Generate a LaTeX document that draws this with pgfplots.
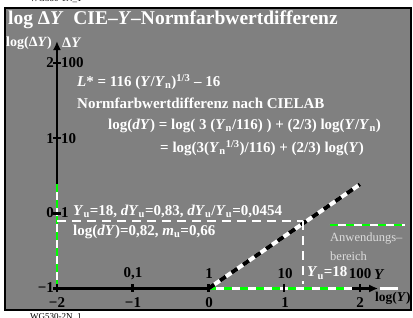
\documentclass[border=0pt]{standalone}
\usepackage{pgfplots}
\pgfplotsset{compat=1.18}
\usepackage{fontspec}
\setmainfont{Liberation Serif}
\usetikzlibrary{arrows.meta}
\definecolor{bg}{RGB}{128,128,128}
\definecolor{gr}{RGB}{0,255,0}
\definecolor{lg}{RGB}{220,220,220}
\newcommand\fs[1]{\fontsize{#1}{#1}\selectfont}
\newcommand\sub[1]{\textsubscript{#1}}
\begin{document}
\begin{tikzpicture}
\begin{scope}[x=1pt,y=-1pt,yshift=317pt]
\fill[bg] (5,8) rectangle (411,310);
\draw[line width=2pt] (5,8) rectangle (411,310);
\node[anchor=south west,inner sep=0pt,font=\fs{9}] at (30,3) {WG530-1N\_1};
\node[anchor=north west,inner sep=0pt,font=\fs{9}] at (30,313) {WG530-2N\_1};
\end{scope}
\begin{axis}[at={(0,0)}, anchor=south west, width=413pt, height=317pt,
  scale only axis, xmin=-2.752, xmax=2.700, ymin=-1.379, ymax=2.836,
  hide axis, clip=false]
% axes
\addplot[black, line width=2.5pt, -{Latex[length=9pt,width=8pt]}] coordinates {(-2,-1) (2.24,-1)};
\addplot[white, line width=2.5pt] coordinates {(2.26,-1) (2.50,-1)};
\addplot[black, line width=2.5pt, -{Latex[length=9pt,width=8pt]}] coordinates {(-2,-1) (-2,2.29)};
% application range
\addplot[white, line width=2.5pt] coordinates {(0,-1) (1.9,-1)};
\addplot[gr, line width=2.5pt, dash pattern=on 8pt off 8pt] coordinates {(0,-1) (1.9,-1)};
\addplot[white, line width=2.5pt] coordinates {(-2,-1) (-2,0.385)};
\addplot[gr, line width=2.5pt, dash pattern=on 8pt off 8pt] coordinates {(-2,-1) (-2,0.385)};
% data line
\addplot[white, line width=4pt] coordinates {(0,-1) (2,0.385)};
\addplot[black, line width=4pt, dash pattern=on 7pt off 7pt] coordinates {(0,-1) (2,0.385)};
% reference lines
\addplot[white, line width=2.5pt, dash pattern=on 9pt off 6pt] coordinates {(-2,-0.104) (1.25,-0.104)};
\addplot[white, line width=2.5pt, dash pattern=on 9pt off 6pt] coordinates {(1.25,-0.104) (1.25,-0.94)};
% legend line
\addplot[white, line width=2.5pt] coordinates {(1.60,-0.156) (2.59,-0.156)};
\addplot[gr, line width=2.5pt, dash pattern=on 8pt off 8pt] coordinates {(1.60,-0.156) (2.59,-0.156)};
% ticks
\addplot[only marks, black, mark=|, mark size=4pt, mark options={line width=2.5pt}] coordinates {(-2,-1) (-1,-1) (0,-1) (1,-1) (2,-1)};
\addplot[only marks, black, mark=-, mark size=4pt, mark options={line width=2.5pt}] coordinates {(-2,2) (-2,1) (-2,0) (-2,-1)};
\end{axis}
\begin{scope}[x=1pt,y=-1pt,yshift=317pt,font=\bfseries]
% title
\node[anchor=west,inner sep=0pt,white,font=\bfseries\fs{19.5}] at (8,20) {log Δ\textit{Y}\ \ CIE–\textit{Y}–Normfarbwertdifferenz};
\node[anchor=west,inner sep=0pt,white,font=\bfseries\fs{14}] at (6,43) {log(Δ\textit{Y})};
\node[anchor=west,inner sep=0pt,white,font=\bfseries\fs{14.5}] at (62,43) {Δ\textit{Y}};
% y tick labels
\node[anchor=east,inner sep=0pt,font=\bfseries\fs{15}] at (54,63) {2};
\node[anchor=west,inner sep=0pt,font=\bfseries\fs{15}] at (61,63) {100};
\node[anchor=east,inner sep=0pt,font=\bfseries\fs{15}] at (54,139) {1};
\node[anchor=west,inner sep=0pt,font=\bfseries\fs{15}] at (61,139) {10};
\node[anchor=east,inner sep=0pt,font=\bfseries\fs{15}] at (54,213) {0};
\node[anchor=west,inner sep=0pt,font=\bfseries\fs{15}] at (61,213) {1};
\node[anchor=east,inner sep=0pt,font=\bfseries\fs{15}] at (54,288) {−1};
% x tick labels
\foreach \x/\t in {57/−2,133/−1,209/0,285/1,360/2}
  \node[inner sep=0pt,font=\bfseries\fs{15}] at (\x,303) {\t};
\foreach \x/\t in {133/{0,1},209/1,285/10,360/100}
  \node[inner sep=0pt,font=\bfseries\fs{15}] at (\x,274) {\t};
\node[anchor=west,inner sep=0pt,white,font=\bfseries\fs{15}] at (307,273) {\textit{Y}\sub{u}=18};
\node[anchor=west,inner sep=0pt,font=\bfseries\fs{15}] at (374,275) {\textit{Y}};
\node[anchor=west,inner sep=0pt,font=\bfseries\fs{13.5}] at (375,298) {log(\textit{Y})};
% formulas
\node[anchor=west,inner sep=0pt,white,font=\bfseries\fs{15}] at (77,82) {\textit{L}* = 116 (\textit{Y}/\textit{Y}\sub{n})\textsuperscript{1/3} – 16};
\node[anchor=west,inner sep=0pt,white,font=\bfseries\fs{15}] at (77,103) {Normfarbwertdifferenz nach CIELAB};
\node[anchor=west,inner sep=0pt,white,font=\bfseries\fs{15}] at (108,126) {log(\textit{dY}) = log( 3 (\textit{Y}\sub{n}/116) ) + (2/3) log(\textit{Y}/\textit{Y}\sub{n})};
\node[anchor=west,inner sep=0pt,white,font=\bfseries\fs{15}] at (160,148) {= log(3(\textit{Y}\sub{n}\textsuperscript{1/3})/116) + (2/3) log(\textit{Y})};
\node[anchor=west,inner sep=0pt,white,font=\bfseries\fs{15}] at (73,211) {\textit{Y}\sub{u}=18, \textit{dY}\sub{u}=0,83, \textit{dY}\sub{u}/\textit{Y}\sub{u}=0,0454};
\node[anchor=west,inner sep=0pt,white,font=\bfseries\fs{15}] at (73,232) {log(\textit{dY})=0,82, \textit{m}\sub{u}=0,66};
% legend text
\node[anchor=west,inner sep=0pt,lg,font=\mdseries\fs{12.5}] at (330,239) {Anwendungs–};
\node[anchor=west,inner sep=0pt,lg,font=\mdseries\fs{12.5}] at (330,256) {bereich};
\end{scope}
\pgfresetboundingbox
\useasboundingbox (0,0) rectangle (413pt,317pt);
\end{tikzpicture}
\end{document}
